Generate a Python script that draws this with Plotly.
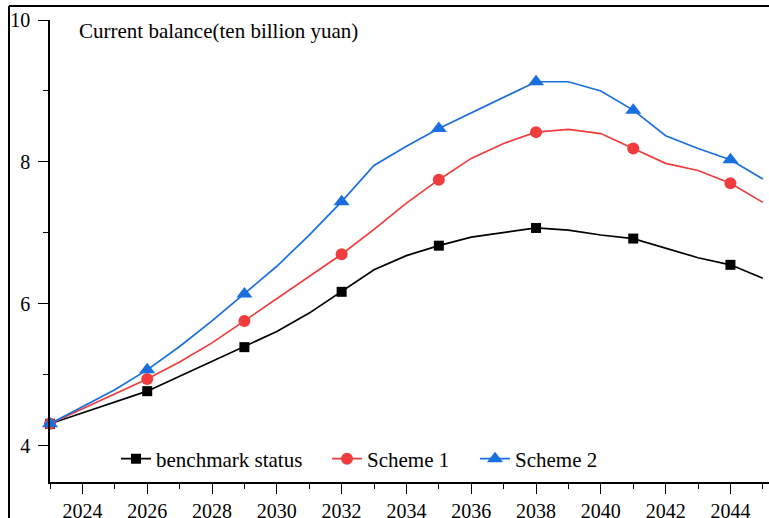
import plotly.graph_objects as go

years = list(range(2023, 2046))
benchmark = [4.31, 4.46, 4.62, 4.77, 4.98, 5.19, 5.39, 5.61, 5.87, 6.17, 6.48, 6.68,
             6.82, 6.94, 7.01, 7.07, 7.04, 6.97, 6.92, 6.79, 6.65, 6.55, 6.36]
scheme1 = [4.31, 4.52, 4.72, 4.94, 5.18, 5.45, 5.76, 6.07, 6.38, 6.70, 7.05, 7.42,
           7.75, 8.05, 8.26, 8.42, 8.46, 8.40, 8.19, 7.98, 7.88, 7.70, 7.43]
scheme2 = [4.31, 4.55, 4.79, 5.07, 5.40, 5.76, 6.14, 6.53, 6.97, 7.44, 7.95, 8.22,
           8.47, 8.69, 8.92, 9.13, 9.13, 9.00, 8.73, 8.37, 8.19, 8.03, 7.76]
marker_idx = [0, 3, 6, 9, 12, 15, 18, 21]

names = ["benchmark status", "Scheme 1", "Scheme 2"]
colors = ["#000000", "#f03c3c", "#1a6fdf"]
symbols = ["square", "circle", "triangle-up"]
sizes = [10, 12, 14]
series = [benchmark, scheme1, scheme2]
legend_ids = ["legend", "legend2", "legend3"]
legend_px = [116, 327, 475]

FONT = "Liberation Serif"

fig = go.Figure()
for name, col, sym, sz, vals, lg in zip(names, colors, symbols, sizes, series, legend_ids):
    fig.add_trace(go.Scatter(x=years, y=vals, mode="lines", line=dict(color=col, width=1.7),
                             showlegend=False, hoverinfo="skip"))
    fig.add_trace(go.Scatter(x=[years[i] for i in marker_idx], y=[vals[i] for i in marker_idx],
                             mode="markers", marker=dict(symbol=sym, size=sz, color=col),
                             showlegend=False, cliponaxis=False))
    fig.add_trace(go.Scatter(x=[None], y=[None], mode="lines+markers", name=name, legend=lg,
                             line=dict(color=col, width=1.7),
                             marker=dict(symbol=sym, size=sz, color=col)))

L, R, T, B = 50, 0, 20, 36
W, H = 769, 518
pw, ph = W - L - R, H - T - B

def px(x):
    return (x - L) / pw

def py(y):
    return (H - B - y) / ph

legend_common = dict(orientation="h", xanchor="left", yanchor="middle",
                     bgcolor="rgba(0,0,0,0)", font=dict(family=FONT, size=21))

fig.update_layout(
    width=W, height=H,
    margin=dict(l=L, r=R, t=T, b=B, autoexpand=False),
    paper_bgcolor="white", plot_bgcolor="white",
    font=dict(family=FONT, size=20, color="black"),
    xaxis=dict(range=[2023, 2045.19], tickmode="linear", tick0=2024, dtick=2, automargin=False,
               showgrid=False, zeroline=False, showline=True, linecolor="black", linewidth=1.5,
               ticks="outside", ticklen=10, tickwidth=1.3, tickcolor="black", ticklabelstandoff=0,
               minor=dict(ticks="outside", dtick=1, tick0=2023, ticklen=5, tickcolor="black", tickwidth=1.2),
               tickfont=dict(family=FONT, size=20)),
    yaxis=dict(range=[3.49, 10], tickmode="linear", tick0=4, dtick=2, automargin=False,
               showgrid=False, zeroline=False, showline=True, linecolor="black", linewidth=1.5,
               ticks="outside", ticklen=10, tickwidth=1.3, tickcolor="black", ticklabelstandoff=4,
               minor=dict(ticks="outside", dtick=1, ticklen=5, tickcolor="black", tickwidth=1.2),
               tickfont=dict(family=FONT, size=20)),
    legend=dict(x=px(legend_px[0]), y=py(459), **legend_common),
    legend2=dict(x=px(legend_px[1]), y=py(459), **legend_common),
    legend3=dict(x=px(legend_px[2]), y=py(459), **legend_common),
    annotations=[dict(text="Current balance(ten billion yuan)", xref="paper", yref="paper",
                      x=px(77), y=py(31), xanchor="left", yanchor="middle", showarrow=False,
                      font=dict(family=FONT, size=21))],
    shapes=[
        dict(type="line", xref="paper", yref="paper", x0=px(9), x1=px(769), y0=py(6), y1=py(6),
             line=dict(color="black", width=2)),
        dict(type="line", xref="paper", yref="paper", x0=px(9), x1=px(9), y0=py(6), y1=py(518),
             line=dict(color="black", width=2)),
    ],
)

fig.write_html("out.html", config={"displayModeBar": False},
               post_script="document.body.style.margin='0';document.body.style.overflow='hidden';")
